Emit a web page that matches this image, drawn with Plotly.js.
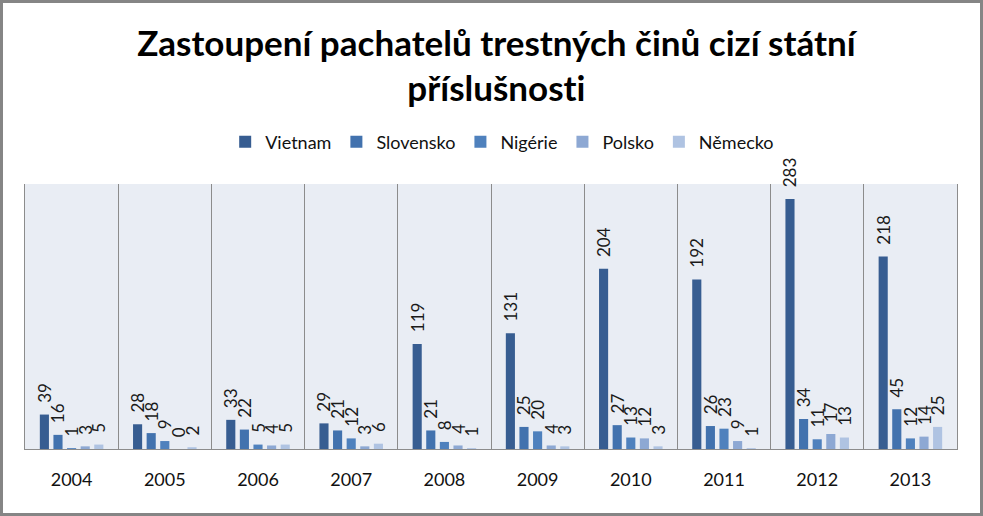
<!DOCTYPE html>
<html>
<head>
<meta charset="utf-8">
<script src="https://cdn.plot.ly/plotly-3.0.1.min.js"></script>
<style>
html,body{margin:0;padding:0;background:#fff;}
#wrap{position:relative;width:983px;height:516px;}
#chart{width:983px;height:516px;}
#chart text{font-variant-ligatures:none;font-feature-settings:"liga" 0;}
#frame{position:absolute;left:0;top:0;width:983px;height:516px;box-sizing:border-box;border:3px solid #858585;pointer-events:none;}
</style>
</head>
<body>
<div id="wrap"><div id="chart"></div><div id="frame"></div></div>
<script>
const years = ["2004","2005","2006","2007","2008","2009","2010","2011","2012","2013"];
const seriesNames = ["Vietnam","Slovensko","Nigérie","Polsko","Německo"];
const vietnam   = [39, 28, 33, 29, 119, 131, 204, 192, 283, 218];
const slovensko = [16, 18, 22, 21, 21, 25, 27, 26, 34, 45];
const nigerie   = [1, 9, 5, 12, 8, 20, 13, 23, 11, 12];
const polsko    = [3, 0, 4, 3, 4, 4, 12, 9, 17, 14];
const nemecko   = [5, 2, 5, 6, 1, 3, 3, 1, 13, 25];
const colors = ["#375D91","#4272AE","#4F81BD","#8DA8D3","#AFC3E2"];
const allValues = [vietnam, slovensko, nigerie, polsko, nemecko];

const traces = allValues.map((vals, i) => ({
  type: "bar",
  name: seriesNames[i],
  x: years,
  y: vals,
  marker: {color: colors[i]},
  text: vals.map(v => "\u00A0\u00A0" + v),
  textposition: "outside",
  textangle: -90,
  constraintext: "none",
  cliponaxis: false,
  textfont: {family: "Lato, sans-serif", size: 17, color: "#1a1a1a"},
  hoverinfo: "none"
}));

const layout = {
  width: 983, height: 516,
  margin: {l: 25, r: 26, t: 184, b: 67},
  paper_bgcolor: "#ffffff",
  plot_bgcolor: "#E9EDF4",
  barmode: "group",
  bargap: 0.27,
  bargroupgap: 0.33,
  title: {
    text: "<b>Zastoupení pachatelů trestných činů cizí státní<br>příslušnosti</b>",
    font: {family: "Lato, sans-serif", size: 35, color: "#000"},
    x: 0.505, xanchor: "center", y: 0.892, yanchor: "middle", yref: "container"
  },
  showlegend: true,
  legend: {
    orientation: "h", x: 0.512, xanchor: "center", y: 1.158, yanchor: "middle",
    font: {family: "Lato, sans-serif", size: 18, color: "#111"},
    itemwidth: 30, traceorder: "normal"
  },
  xaxis: {
    type: "category",
    tickson: "boundaries",
    showgrid: true, gridcolor: "#8C8C8C", gridwidth: 1,
    showline: true, linecolor: "#8C8C8C", linewidth: 1,
    ticks: "",
    ticklabelstandoff: 14,
    tickfont: {family: "Lato, sans-serif", size: 18, color: "#111"}
  },
  yaxis: {
    range: [0, 300],
    showticklabels: false, showgrid: false, zeroline: false,
    showline: true, mirror: true, linecolor: "#8C8C8C", linewidth: 1,
    ticks: ""
  }
};

Plotly.newPlot("chart", traces, layout, {staticPlot: true, displayModeBar: false});
</script>
</body>
</html>
